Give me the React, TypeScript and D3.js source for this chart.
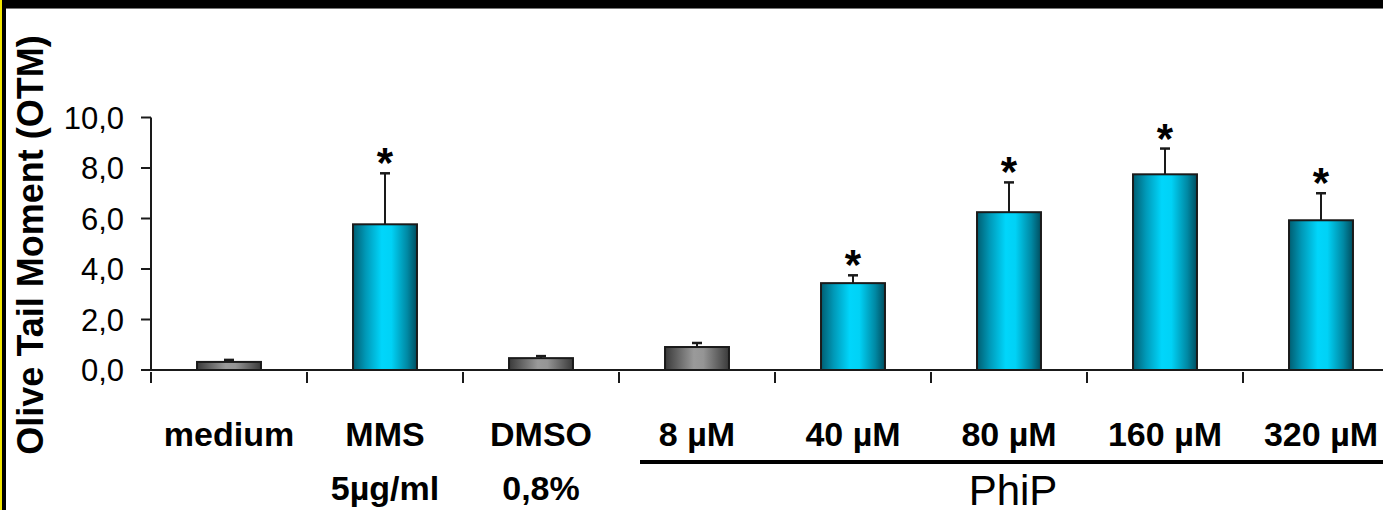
import React from "react";
import * as d3 from "d3";

const categories = ["medium", "MMS", "DMSO", "8 µM", "40 µM", "80 µM", "160 µM", "320 µM"];
const labelLine1 = ["medium", "MMS", "DMSO", "8 µM", "40 µM", "80 µM", "160 µM", "320 µM"];
const labelLine2 = ["", "5µg/ml", "0,8%", "", "", "", "", ""];
const values = [0.32, 5.77, 0.47, 0.91, 3.44, 6.25, 7.75, 5.93];
const errors = [0.08, 2.02, 0.08, 0.16, 0.31, 1.18, 1.02, 1.07];
const kinds = ["grey", "blue", "grey", "grey", "blue", "blue", "blue", "blue"];
const significant = [false, true, false, false, true, true, true, true];
const yTicks = [0, 2, 4, 6, 8, 10];
const yTickLabels = ["0,0", "2,0", "4,0", "6,0", "8,0", "10,0"];
const groupLabel = "PhiP";
const groupMembers = ["8 µM", "40 µM", "80 µM", "160 µM", "320 µM"];
const yTitle = "Olive Tail Moment (OTM)";

export default function App() {
  const W = 1383;
  const H = 510;
  const x0 = 151;
  const band = 156;
  const x = d3
    .scaleBand<string>()
    .domain(categories)
    .range([x0, x0 + band * categories.length])
    .paddingInner(0.59)
    .paddingOuter(0.295);
  const xb = d3.scaleBand<string>().domain(categories).range([x0, x0 + band * categories.length]);
  const y = d3.scaleLinear().domain([0, 10]).range([370, 117.5]);

  const font = "'Liberation Sans', Arial, Helvetica, sans-serif";
  const stroke = "#1a1a1a";

  const gStart = xb(groupMembers[0])! + 21;
  const gEnd = W;
  const gMid = xb(groupMembers[2])! + band / 2 + 4;

  return (
    <svg
      width={W}
      height={H}
      style={{ position: "absolute", left: 0, top: 0, background: "#fff" }}
      fontFamily={font}
    >
      <defs>
        <linearGradient id="blueGrad" x1="0" x2="1" y1="0" y2="0">
          <stop offset="0" stopColor="#005e72" />
          <stop offset="0.2" stopColor="#0099b8" />
          <stop offset="0.45" stopColor="#00d6fb" />
          <stop offset="0.6" stopColor="#00d2f6" />
          <stop offset="0.85" stopColor="#0088a3" />
          <stop offset="1" stopColor="#004e60" />
        </linearGradient>
        <linearGradient id="greyGrad" x1="0" x2="1" y1="0" y2="0">
          <stop offset="0" stopColor="#3a3a3a" />
          <stop offset="0.45" stopColor="#9a9a9a" />
          <stop offset="0.6" stopColor="#959595" />
          <stop offset="1" stopColor="#3a3a3a" />
        </linearGradient>
      </defs>
      <rect x={0} y={0} width={W} height={H} fill="#fff" />
      {/* frame */}
      <rect x={0} y={0} width={3} height={H} fill="#f2e600" />
      <rect x={2} y={0} width={4} height={H} fill="#000" />
      <rect x={2} y={0} width={W} height={8} fill="#000" />
      <rect x={6} y={8} width={W} height={1} fill="#777" />

      {/* y title */}
      <text
        transform={`translate(43,245) rotate(-90)`}
        textAnchor="middle"
        fontWeight="bold"
        fontSize={36}
        fill="#000"
      >
        {yTitle}
      </text>

      {/* y axis */}
      <line x1={x0} x2={x0} y1={y(10)} y2={y(0)} stroke={stroke} strokeWidth={2} />
      {yTicks.map((t, i) => (
        <g key={t}>
          <line x1={x0 - 10} x2={x0} y1={y(t)} y2={y(t)} stroke={stroke} strokeWidth={2} />
          <text x={124} y={y(t) + 11} textAnchor="end" fontSize={31} fill="#000">
            {yTickLabels[i]}
          </text>
        </g>
      ))}

      {/* bars */}
      {categories.map((c, i) => {
        const bx = x(c)!;
        const bw = x.bandwidth();
        const top = y(values[i]);
        const cx = bx + bw / 2;
        const eTop = y(values[i] + errors[i]);
        return (
          <g key={c}>
            <line x1={cx} x2={cx} y1={top} y2={eTop} stroke={stroke} strokeWidth={2} />
            <line x1={cx - 5} x2={cx + 5} y1={eTop} y2={eTop} stroke={stroke} strokeWidth={2.5} />
            <rect
              x={bx}
              y={top}
              width={bw}
              height={y(0) - top}
              fill={kinds[i] === "blue" ? "url(#blueGrad)" : "url(#greyGrad)"}
              stroke={stroke}
              strokeWidth={2}
            />
            {significant[i] && (
              <text x={cx} y={eTop + 4} textAnchor="middle" fontWeight="bold" fontSize={42} fill="#000">
                *
              </text>
            )}
          </g>
        );
      })}

      {/* x axis */}
      <line x1={x0 - 10} x2={W} y1={y(0)} y2={y(0)} stroke={stroke} strokeWidth={2} />
      {categories.map((c) => (
        <line key={c} x1={xb(c)!} x2={xb(c)!} y1={y(0) + 2} y2={y(0) + 13} stroke={stroke} strokeWidth={2} />
      ))}

      {/* category labels */}
      {categories.map((c, i) => {
        const cx = xb(c)! + band / 2;
        return (
          <g key={c}>
            <text x={cx} y={446} textAnchor="middle" fontWeight="bold" fontSize={34} fill="#000">
              {labelLine1[i]}
            </text>
            {labelLine2[i] && (
              <text x={cx} y={500} textAnchor="middle" fontWeight="bold" fontSize={34} fill="#000">
                {labelLine2[i]}
              </text>
            )}
          </g>
        );
      })}

      {/* group line */}
      <rect x={gStart} y={460} width={gEnd - gStart} height={4} fill="#000" />
      <text x={gMid} y={505} textAnchor="middle" fontSize={42} fill="#000">
        {groupLabel}
      </text>
    </svg>
  );
}
